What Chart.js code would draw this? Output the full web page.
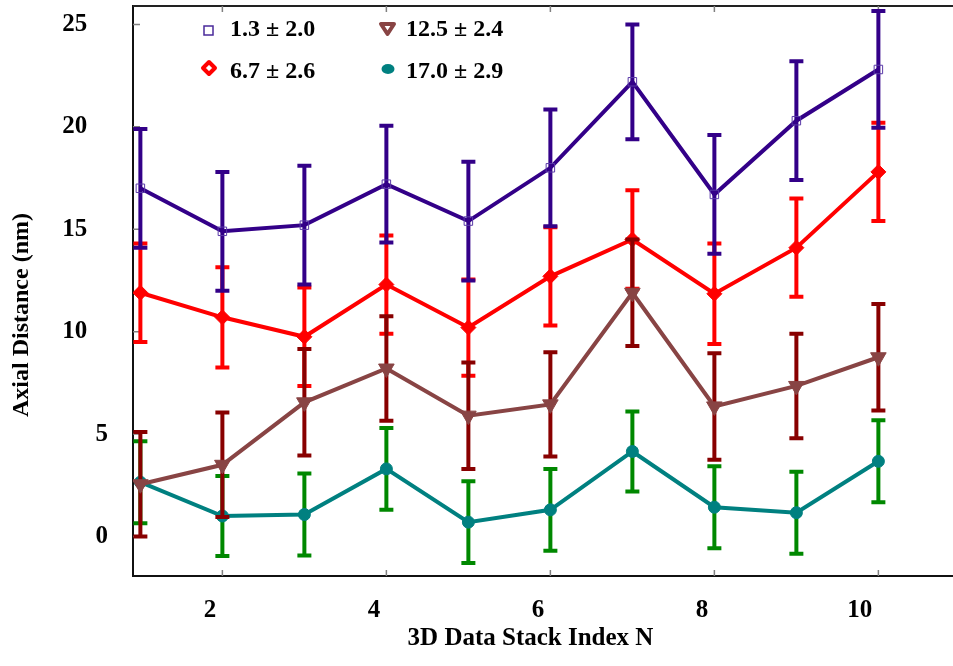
<!DOCTYPE html>
<html>
<head>
<meta charset="utf-8">
<script src="https://cdn.jsdelivr.net/npm/chart.js@4.4.0/dist/chart.umd.min.js"></script>
<style>
  html, body { margin: 0; padding: 0; background: #fff; }
  #wrap { position: relative; width: 953px; height: 666px; }
</style>
</head>
<body>
<div id="wrap"><canvas id="chart"></canvas></div>
<script>
// === DATA ===
const stackIndex = [1, 2, 3, 4, 5, 6, 7, 8, 9, 10];
const xTicks = [2, 4, 6, 8, 10];
const yTicks = [0, 5, 10, 15, 20, 25];

const blueY    = [17.0, 14.9, 15.2, 17.2, 15.4, 18.0, 22.2, 16.7, 20.3, 22.8];
const blueErr  = [2.9, 2.9, 2.9, 2.85, 2.9, 2.85, 2.8, 2.9, 2.9, 2.85];
const redY     = [11.9, 10.7, 9.75, 12.3, 10.2, 12.7, 14.5, 11.85, 14.1, 17.8];
const redErr   = [2.4, 2.45, 2.4, 2.4, 2.35, 2.4, 2.4, 2.45, 2.4, 2.4];
const brownY   = [2.55, 3.5, 6.55, 8.2, 5.9, 6.45, 11.9, 6.35, 7.35, 8.75];
const brownErr = [2.55, 2.55, 2.6, 2.55, 2.6, 2.55, 2.6, 2.6, 2.55, 2.6];
const tealY    = [2.65, 1.0, 1.07, 3.3, 0.7, 1.3, 4.15, 1.43, 1.16, 3.67];
const tealErr  = [2.0, 1.95, 2.0, 2.0, 2.0, 2.0, 1.95, 2.0, 2.0, 2.0];

const seriesLabels = ['1.3 \u00b1 2.0', '6.7 \u00b1 2.6', '12.5 \u00b1 2.4', '17.0 \u00b1 2.9'];

const FONT = "'Liberation Serif', 'Times New Roman', serif";
const pts = ys => stackIndex.map((x, i) => ({ x: x, y: ys[i] }));

// === ERROR BARS (drawn just under each dataset's own line) ===
const errorBars = {
  id: 'errorBars',
  beforeDatasetDraw(chart, args) {
    const ds = chart.data.datasets[args.index];
    if (!ds.errors) return;
    const ctx = chart.ctx, yScale = chart.scales.y;
    ctx.save();
    ctx.strokeStyle = ds.errorColor;
    ctx.lineWidth = 4;
    args.meta.data.forEach((p, i) => {
      const v = ds.data[i].y, e = ds.errors[i];
      const top = yScale.getPixelForValue(v + e);
      const bot = yScale.getPixelForValue(v - e);
      ctx.beginPath();
      ctx.moveTo(p.x, top); ctx.lineTo(p.x, bot);
      ctx.moveTo(p.x - 7, top); ctx.lineTo(p.x + 7, top);
      ctx.moveTo(p.x - 7, bot); ctx.lineTo(p.x + 7, bot);
      ctx.stroke();
    });
    ctx.restore();
  }
};

// === FRAME: top border + inward tick marks ===
const frame = {
  id: 'frame',
  beforeDatasetsDraw(chart) {
    const { ctx, chartArea: a, scales } = chart;
    ctx.save();
    ctx.strokeStyle = '#222';
    ctx.lineWidth = 2;
    ctx.beginPath();
    ctx.moveTo(a.left, a.top); ctx.lineTo(a.right, a.top);
    ctx.stroke();

    ctx.strokeStyle = '#808080';
    ctx.lineWidth = 1.5;
    ctx.beginPath();
    xTicks.forEach(v => {
      const x = scales.x.getPixelForValue(v);
      ctx.moveTo(x, a.bottom); ctx.lineTo(x, a.bottom - 6);
      ctx.moveTo(x, a.top); ctx.lineTo(x, a.top + 6);
    });
    yTicks.forEach(v => {
      const y = scales.y.getPixelForValue(v);
      ctx.moveTo(a.left, y); ctx.lineTo(a.left + 7, y);
    });
    ctx.stroke();
    ctx.restore();
  }
};

// === KEY (two columns, top left inside the plot) ===
const key = {
  id: 'key',
  afterDraw(chart) {
    const ctx = chart.ctx;
    ctx.save();
    // blue open square
    ctx.strokeStyle = '#4a2a9a'; ctx.lineWidth = 1.5;
    ctx.strokeRect(204, 26, 9, 9);
    // red open rounded diamond
    ctx.strokeStyle = '#ff0000'; ctx.lineWidth = 4; ctx.lineJoin = 'round';
    ctx.beginPath();
    ctx.moveTo(209, 62); ctx.lineTo(215, 68); ctx.lineTo(209, 74); ctx.lineTo(203, 68);
    ctx.closePath(); ctx.stroke();
    // brown down triangle
    ctx.strokeStyle = '#884444'; ctx.fillStyle = '#ffffff'; ctx.lineWidth = 4;
    ctx.beginPath();
    ctx.moveTo(381, 24); ctx.lineTo(394, 24); ctx.lineTo(387.5, 34);
    ctx.closePath(); ctx.fill(); ctx.stroke();
    // teal blob
    ctx.fillStyle = '#008080';
    ctx.beginPath();
    ctx.ellipse(388, 69, 6.5, 5, 0, 0, Math.PI * 2);
    ctx.fill();

    ctx.fillStyle = '#000';
    ctx.font = 'bold 24px ' + FONT;
    ctx.textBaseline = 'alphabetic';
    ctx.textAlign = 'left';
    ctx.fillText(seriesLabels[0], 230, 36);
    ctx.fillText(seriesLabels[1], 230, 78);
    ctx.fillText(seriesLabels[2], 406, 36);
    ctx.fillText(seriesLabels[3], 406, 78);
    ctx.restore();
  }
};

new Chart(document.getElementById('chart'), {
  type: 'line',
  data: {
    datasets: [
      {
        label: seriesLabels[0], data: pts(blueY), errors: blueErr, errorColor: '#330088',
        borderColor: '#330088', borderWidth: 4, order: 3,
        pointStyle: 'rect', pointRadius: 6, pointBorderWidth: 1,
        pointBorderColor: '#5a3aa8', pointBackgroundColor: 'rgba(255,255,255,0)'
      },
      {
        label: seriesLabels[1], data: pts(redY), errors: redErr, errorColor: '#ff0000',
        borderColor: '#ff0000', borderWidth: 4, order: 4,
        pointStyle: 'rectRot', pointRadius: 7.5, pointBorderWidth: 1,
        pointBorderColor: '#ff0000', pointBackgroundColor: '#ff0000'
      },
      {
        label: seriesLabels[2], data: pts(brownY), errors: brownErr, errorColor: '#880000',
        borderColor: '#884444', borderWidth: 4, order: 1,
        pointStyle: 'triangle', rotation: 180, pointRadius: 9, pointBorderWidth: 1,
        pointBorderColor: '#884444', pointBackgroundColor: '#884444'
      },
      {
        label: seriesLabels[3], data: pts(tealY), errors: tealErr, errorColor: '#008800',
        borderColor: '#008080', borderWidth: 4, order: 2,
        pointStyle: 'circle', pointRadius: 6, pointBorderWidth: 1,
        pointBorderColor: '#008080', pointBackgroundColor: '#008080'
      }
    ]
  },
  options: {
    responsive: true,
    maintainAspectRatio: false,
    animation: false,
    layout: { autoPadding: false, padding: { top: 6, right: 0, bottom: 0, left: 0 } },
    plugins: { legend: { display: false }, tooltip: { enabled: false } },
    scales: {
      x: {
        type: 'linear', min: 0.91, max: 10.91,
        afterBuildTicks: s => { s.ticks = xTicks.map(v => ({ value: v })); },
        afterFit: s => { s.height = 90; s.paddingLeft = 0; s.paddingRight = 0; },
        grid: { drawOnChartArea: false, drawTicks: false },
        border: { color: '#111', width: 2 },
        ticks: {
          color: '#000', padding: 20, align: 'end',
          font: { family: FONT, size: 25, weight: 'bold' },
          callback: v => v + ' '
        },
        title: {
          display: true, text: '3D Data Stack Index N\u2003', color: '#000',
          font: { family: FONT, size: 25, weight: 'bold' },
          padding: { top: 0, bottom: 12 }
        }
      },
      y: {
        min: -1.93, max: 25.9,
        afterBuildTicks: s => { s.ticks = yTicks.map(v => ({ value: v })); },
        afterFit: s => { s.width = 133; s.paddingTop = 0; s.paddingBottom = 0; },
        grid: { drawOnChartArea: false, drawTicks: false },
        border: { color: '#111', width: 2 },
        ticks: {
          color: '#000', padding: 25,
          font: { family: FONT, size: 25, weight: 'bold' },
          callback: v => (v >= 10 ? v + '\u2002\u2004' : String(v))
        },
        title: {
          display: true, text: 'Axial Distance (nm)\u2003\u2003', color: '#000',
          font: { family: FONT, size: 24, weight: 'bold' },
          padding: { top: 7, bottom: 0 }
        }
      }
    }
  },
  plugins: [errorBars, frame, key]
});
</script>
</body>
</html>
